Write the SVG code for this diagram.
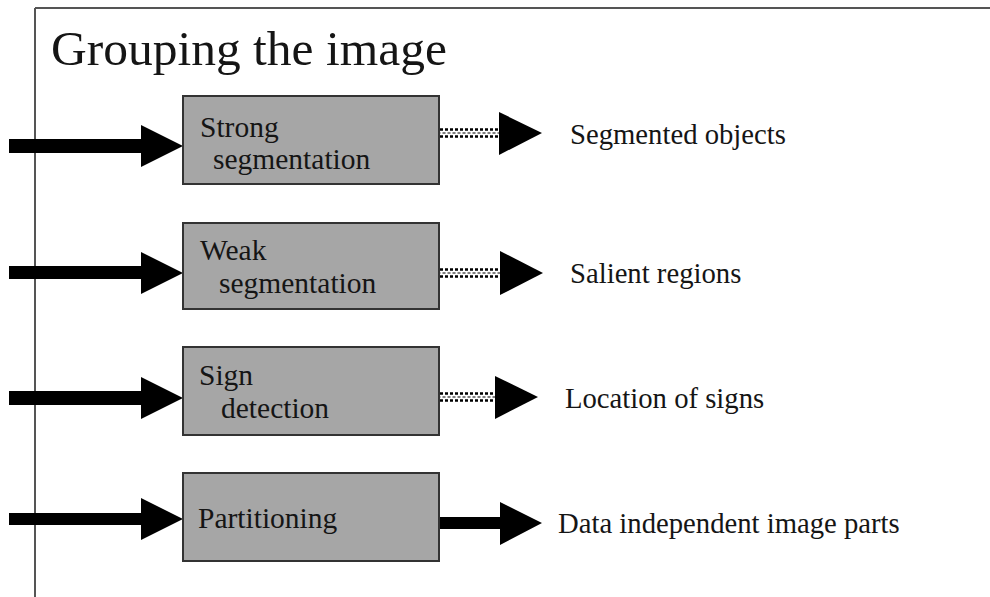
<svg xmlns="http://www.w3.org/2000/svg" width="990" height="597" viewBox="0 0 990 597">
  <defs>
    <style>
      .frame { stroke: #555; stroke-width: 2; fill: none; }
      .box { fill: #a6a6a6; stroke: #333; stroke-width: 2; }
      .btxt { font-family: "Liberation Serif", "Times New Roman", serif; font-size: 29.5px; fill: #151515; }
      .ltxt { font-family: "Liberation Serif", "Times New Roman", serif; font-size: 28.7px; fill: #151515; }
      .title { font-family: "Liberation Serif", "Times New Roman", serif; font-size: 49.5px; fill: #151515; }
      .solid { fill: #000; }
      .dot { stroke: #000; stroke-width: 2.5; stroke-dasharray: 3 2; fill: none; }
      .dotmid { stroke: #555; stroke-width: 1.5; stroke-dasharray: 3 2; stroke-dashoffset: 2.5; fill: none; }
    </style>
  </defs>

  <rect width="990" height="597" fill="#fff"/>

  <!-- slide frame -->
  <g id="frame">
    <line class="frame" x1="35" y1="8" x2="990" y2="8"/>
    <line class="frame" x1="35" y1="8" x2="35" y2="597"/>
  </g>

  <text class="title" x="51" y="65">Grouping the image</text>

  <!-- connectors -->
  <g id="connectors">
    <!-- input arrows -->
    <path class="solid" d="M9,139 H141 V125 L183,146 L141,167 V153 H9 Z"/>
    <path class="solid" d="M9,266 H141 V252 L183,273 L141,294 V279 H9 Z"/>
    <path class="solid" d="M9,391 H141 V377 L183,398 L141,419 V405 H9 Z"/>
    <path class="solid" d="M9,513 H141 V498 L183,519 L141,540 V525 H9 Z"/>

    <!-- dotted output arrows -->
    <g>
      <line class="dot" x1="440" y1="129.5" x2="500" y2="129.5"/>
      <line class="dotmid" x1="440" y1="133" x2="500" y2="133"/>
      <line class="dot" x1="440" y1="136.5" x2="500" y2="136.5"/>
      <path class="solid" d="M499,112 L542,133 L499,155 Z"/>
    </g>
    <g>
      <line class="dot" x1="440" y1="269.5" x2="500" y2="269.5"/>
      <line class="dotmid" x1="440" y1="273" x2="500" y2="273"/>
      <line class="dot" x1="440" y1="276.5" x2="500" y2="276.5"/>
      <path class="solid" d="M500,251 L543,273 L500,295 Z"/>
    </g>
    <g>
      <line class="dot" x1="440" y1="393.5" x2="495" y2="393.5"/>
      <line class="dotmid" x1="440" y1="397" x2="495" y2="397"/>
      <line class="dot" x1="440" y1="400.5" x2="495" y2="400.5"/>
      <path class="solid" d="M495,376 L538,397 L495,419 Z"/>
    </g>

    <!-- solid output arrow -->
    <path class="solid" d="M439,517 H500 V502 L542,523 L500,545 V529 H439 Z"/>
  </g>

  <!-- process boxes -->
  <g id="strong-segmentation">
    <rect class="box" x="183" y="96" width="256" height="88"/>
    <text class="btxt" x="200" y="137">Strong</text>
    <text class="btxt" x="213" y="169">segmentation</text>
  </g>
  <g id="weak-segmentation">
    <rect class="box" x="183" y="223" width="256" height="86"/>
    <text class="btxt" x="200" y="260">Weak</text>
    <text class="btxt" x="219" y="293">segmentation</text>
  </g>
  <g id="sign-detection">
    <rect class="box" x="183" y="347" width="256" height="88"/>
    <text class="btxt" x="199" y="385">Sign</text>
    <text class="btxt" x="221" y="418">detection</text>
  </g>
  <g id="partitioning">
    <rect class="box" x="183" y="473" width="256" height="88"/>
    <text class="btxt" x="198" y="528">Partitioning</text>
  </g>

  <!-- outputs -->
  <g id="segmented-objects"><text class="ltxt" x="570" y="144">Segmented objects</text></g>
  <g id="salient-regions"><text class="ltxt" x="570" y="283">Salient regions</text></g>
  <g id="location-of-signs"><text class="ltxt" x="565" y="408">Location of signs</text></g>
  <g id="data-independent-parts"><text class="ltxt" x="558" y="533">Data independent image parts</text></g>
</svg>
